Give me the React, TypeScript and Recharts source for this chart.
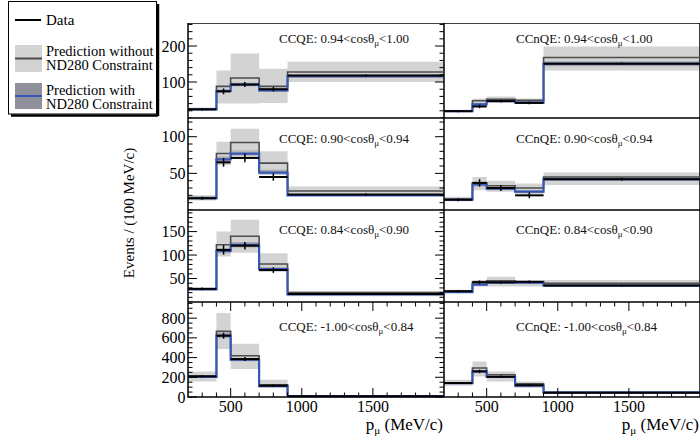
import { FC } from 'react';
import { ComposedChart, Line, Area, Scatter, ErrorBar, XAxis, YAxis, ReferenceArea } from 'recharts';

// bin edges and centres in p_mu (MeV/c)
const EDGES = [200, 400, 500, 700, 900, 2000];
const CENTERS = [300, 450, 600, 800, 1450];

const X_MAJOR = [500, 1000, 1500];
const X_TICKS = [300, 400, 500, 600, 700, 800, 900, 1000, 1100, 1200, 1300, 1400, 1500, 1600, 1700, 1800, 1900];

const COLUMNS = ['CCQE', 'CCnQE'];
const COS_RANGES = [
	['0.94', '1.00'],
	['0.90', '0.94'],
	['0.84', '0.90'],
	['-1.00', '0.84'],
];

const Y_MAX = [264, 125.5, 196, 964];
const Y_MAJOR = [[100, 200], [50, 100], [50, 100, 150], [0, 200, 400, 600, 800]];
const Y_STEP = [20, 10, 10, 50];

type PanelValues = {
	pre: number[];
	preLo: number[];
	preHi: number[];
	post: number[];
	postLo: number[];
	postHi: number[];
	data: number[];
	err: number[];
};

const ccqe094: PanelValues = {
	pre: [25, 88, 111, 88, 128],
	preLo: [21, 40, 40, 42, 100],
	preHi: [29, 132, 179, 137, 156],
	post: [24, 75, 93, 77, 116],
	postLo: [22, 71, 88, 73, 111],
	postHi: [26, 80, 98, 82, 121],
	data: [24, 74, 93, 80, 118],
	err: [3, 8, 7, 6, 3],
};
const ccnqe094: PanelValues = {
	pre: [20, 48, 52, 49, 168],
	preLo: [17, 31, 44, 40, 132],
	preHi: [23, 54, 60, 54, 199],
	post: [19, 38, 47, 43, 151],
	postLo: [18, 34, 44, 40, 144],
	postHi: [21, 42, 50, 46, 158],
	data: [19, 32, 47, 42, 151],
	err: [3, 5, 4, 4, 3],
};
const ccqe090: PanelValues = {
	pre: [17, 77, 92, 64, 26],
	preLo: [13, 61, 80, 52, 23],
	preHi: [20, 93, 111, 80, 32],
	post: [16, 69, 77, 51, 20],
	postLo: [15, 65, 73, 48, 19],
	postHi: [17, 73, 81, 55, 22],
	data: [16, 65, 71, 45, 21],
	err: [2, 6, 6, 5, 2],
};
const ccnqe090: PanelValues = {
	pre: [15, 37, 33, 30, 45],
	preLo: [12, 27, 25, 22, 34],
	preHi: [18, 45, 40, 36, 51],
	post: [14, 35, 29, 25, 42],
	postLo: [13, 32, 27, 23, 40],
	postHi: [15, 38, 31, 27, 44],
	data: [14, 37, 30, 20, 42],
	err: [2, 5, 4, 4, 2],
};
const ccqe084: PanelValues = {
	pre: [28, 122, 140, 81, 20],
	preLo: [25, 97, 105, 65, 12],
	preHi: [31, 150, 175, 104, 23],
	post: [27, 109, 122, 70, 16],
	postLo: [26, 104, 116, 66, 15],
	postHi: [29, 114, 128, 74, 18],
	data: [28, 111, 120, 68, 17],
	err: [3, 10, 8, 6, 2],
};
const ccnqe084: PanelValues = {
	pre: [23, 43, 45, 43, 40],
	preLo: [20, 33, 33, 33, 35],
	preHi: [26, 47, 54, 47, 47],
	post: [21, 37, 41, 41, 35],
	postLo: [20, 35, 39, 39, 33],
	postHi: [23, 40, 43, 43, 37],
	data: [23, 42, 42, 43, 35],
	err: [2, 4, 3, 3, 2],
};
const ccqeBack: PanelValues = {
	pre: [209, 666, 419, 125, 10],
	preLo: [158, 487, 284, 95, 5],
	preHi: [260, 853, 541, 176, 14],
	post: [205, 622, 379, 110, 8],
	postLo: [195, 595, 362, 104, 6],
	postHi: [215, 650, 396, 117, 10],
	data: [210, 622, 385, 115, 8],
	err: [12, 30, 20, 12, 2],
};
const ccnqeBack: PanelValues = {
	pre: [142, 294, 226, 135, 48],
	preLo: [115, 209, 158, 91, 35],
	preHi: [176, 361, 260, 158, 60],
	post: [140, 260, 203, 115, 44],
	postLo: [133, 248, 194, 109, 42],
	postHi: [147, 272, 212, 121, 46],
	data: [142, 260, 205, 120, 44],
	err: [10, 18, 12, 10, 4],
};

const PANELS = [
	[ccqe094, ccnqe094],
	[ccqe090, ccnqe090],
	[ccqe084, ccnqe084],
	[ccqeBack, ccnqeBack],
];

// layout (px)
const PLOT_W = 256;
const COL_LEFT = [188, 444];
const ROW_TOP = [23, 118, 210, 302];
const ROW_H = [95, 92, 92, 95];
const LABEL_BASE = [43, 143, 234, 331];
const LABEL_X = [279, 516];

const FONT = '"Liberation Serif", "DejaVu Serif", serif';

const stepRows = (p: PanelValues) =>
	EDGES.map((x, i) => {
		const k = Math.min(i, p.pre.length - 1);
		return {
			x,
			pre: p.pre[k],
			preBand: [p.preLo[k], p.preHi[k]],
			post: p.post[k],
			postBand: [p.postLo[k], p.postHi[k]],
		};
	});

const dataRows = (p: PanelValues) =>
	CENTERS.map((x, i) => ({
		x,
		y: p.data[i],
		xe: (EDGES[i + 1] - EDGES[i]) / 2,
		ye: p.err[i],
	}));

const yTicks = (row: number) => {
	const out: number[] = [];
	for (let v = 0; v < Y_MAX[row]; v += Y_STEP[row]) out.push(v);
	return out;
};

const xTick = (ph: number, showLabel: boolean) => (props: any) => {
	const { x, y, payload } = props;
	const major = X_MAJOR.includes(payload.value);
	const len = major ? 9 : 4.5;
	return (
		<g>
			<line x1={x} x2={x} y1={y} y2={y - len} stroke='#000' strokeWidth={1} />
			<line x1={x} x2={x} y1={y - ph} y2={y - ph + len} stroke='#000' strokeWidth={1} />
			{showLabel && major && (
				<text x={x} y={y + 15} textAnchor='middle' fontSize={16} fill='#000' fontFamily={FONT}>
					{payload.value}
				</text>
			)}
		</g>
	);
};

const yTick = (row: number, showLabel: boolean) => (props: any) => {
	const { x, y, payload } = props;
	const major = Y_MAJOR[row].includes(payload.value);
	const len = major ? 9 : 4.5;
	return (
		<g>
			<line x1={x} x2={x + len} y1={y} y2={y} stroke='#000' strokeWidth={1} />
			<line x1={x + PLOT_W} x2={x + PLOT_W - len} y1={y} y2={y} stroke='#000' strokeWidth={1} />
			{showLabel && major && (
				<text x={x - 2.5} y={y + 5.5} textAnchor='end' fontSize={16} fill='#000' fontFamily={FONT}>
					{payload.value}
				</text>
			)}
		</g>
	);
};

const Panel: FC<{ row: number; col: number; p: PanelValues }> = ({ row, col, p }) => {
	const left = col === 0 ? 40 : 0;
	const bottom = row === 3 ? 24 : 0;
	const ph = ROW_H[row];
	return (
		<div style={{ position: 'absolute', left: COL_LEFT[col] - left, top: ROW_TOP[row] }}>
			<ComposedChart
				width={PLOT_W + left}
				height={ph + bottom}
				data={stepRows(p)}
				margin={{ top: 0, right: 0, bottom: 0, left: 0 }}
			>
				<XAxis
					type='number'
					dataKey='x'
					domain={[200, 2000]}
					allowDataOverflow
					ticks={X_TICKS}
					interval={0}
					height={bottom}
					axisLine={false}
					tickLine={false}
					tickSize={0}
					tickMargin={0}
					tick={xTick(ph, row === 3)}
				/>
				<YAxis
					type='number'
					dataKey='y'
					domain={[0, Y_MAX[row]]}
					allowDataOverflow
					ticks={yTicks(row)}
					interval={0}
					width={left}
					axisLine={false}
					tickLine={false}
					tickSize={0}
					tickMargin={0}
					tick={yTick(row, col === 0)}
				/>
				<Area type='stepAfter' dataKey='preBand' stroke='none' fill='#d3d3d3' fillOpacity={1} isAnimationActive={false} />
				<Line type='stepAfter' dataKey='pre' stroke='#4d4d4d' strokeWidth={1.6} dot={false} activeDot={false} isAnimationActive={false} />
				<Area type='stepAfter' dataKey='postBand' stroke='none' fill='#8c8c96' fillOpacity={0.6} isAnimationActive={false} />
				<Line type='stepAfter' dataKey='post' stroke='#3656b5' strokeWidth={2.2} dot={false} activeDot={false} isAnimationActive={false} />
				<Scatter data={dataRows(p)} shape={() => <g />} isAnimationActive={false}>
					<ErrorBar dataKey='xe' direction='x' width={0} stroke='#000' strokeWidth={2} isAnimationActive={false} />
					<ErrorBar dataKey='ye' direction='y' width={0} stroke='#000' strokeWidth={1.5} isAnimationActive={false} />
				</Scatter>
				<ReferenceArea x1={200} x2={2000} y1={0} y2={Y_MAX[row]} fill='none' stroke='#000' strokeWidth={1.5} ifOverflow='visible' />
			</ComposedChart>
		</div>
	);
};

const App: FC = () => {
	return (
		<div
			style={{
				position: 'absolute',
				left: 0,
				top: 0,
				width: 700,
				height: 439,
				background: '#fff',
				overflow: 'hidden',
				fontFamily: FONT,
			}}
		>
			{PANELS.map((rowPanels, row) =>
				rowPanels.map((p, col) => <Panel key={`${row}-${col}`} row={row} col={col} p={p} />)
			)}

			<svg width={700} height={439} style={{ position: 'absolute', left: 0, top: 0, pointerEvents: 'none' }} fontFamily={FONT}>
				{/* panel titles */}
				{COS_RANGES.map((r, row) =>
					COLUMNS.map((name, col) => (
						<text key={`t-${row}-${col}`} x={LABEL_X[col]} y={LABEL_BASE[row]} fontSize={13} fill='#111'>
							{`${name}: ${r[0]}<cosθ`}
							<tspan fontSize={9} dy={3}>μ</tspan>
							<tspan dy={-3}>{`<${r[1]}`}</tspan>
						</text>
					))
				)}

				{/* axis titles */}
				{[443, 699].map((xr) => (
					<text key={`xt-${xr}`} x={xr} y={430} textAnchor='end' fontSize={17} fill='#000'>
						p<tspan fontSize={11} dy={4}>μ</tspan>
						<tspan dy={-4}> (MeV/c)</tspan>
					</text>
				))}
				<text x={0} y={0} transform='translate(134,213) rotate(-90)' textAnchor='middle' fontSize={15} fill='#000'>
					Events / (100 MeV/c)
				</text>

				{/* legend */}
				<line x1={158} x2={158} y1={4} y2={116} stroke='#000' strokeWidth={2.5} />
				<line x1={11} x2={158} y1={115.5} y2={115.5} stroke='#000' strokeWidth={2.5} />
				<rect x={8.5} y={1.5} width={148} height={112.5} fill='#fff' stroke='#000' strokeWidth={1} />
				<line x1={15} x2={41} y1={20} y2={20} stroke='#000' strokeWidth={2} />
				<text x={46} y={25} fontSize={15} fill='#000'>Data</text>
				<rect x={15} y={45} width={27} height={27} fill='#d3d3d3' />
				<line x1={15} x2={42} y1={58.5} y2={58.5} stroke='#4d4d4d' strokeWidth={2} />
				<text x={46} y={56} fontSize={14.5} fill='#000'>Prediction without</text>
				<text x={46} y={70} fontSize={14.5} fill='#000'>ND280 Constraint</text>
				<rect x={15} y={83} width={27} height={26} fill='#8f909a' />
				<line x1={15} x2={42} y1={96} y2={96} stroke='#3656b5' strokeWidth={2} />
				<text x={46} y={94.5} fontSize={14.5} fill='#000'>Prediction with</text>
				<text x={46} y={108.5} fontSize={14.5} fill='#000'>ND280 Constraint</text>
			</svg>
		</div>
	);
};

export default App;
